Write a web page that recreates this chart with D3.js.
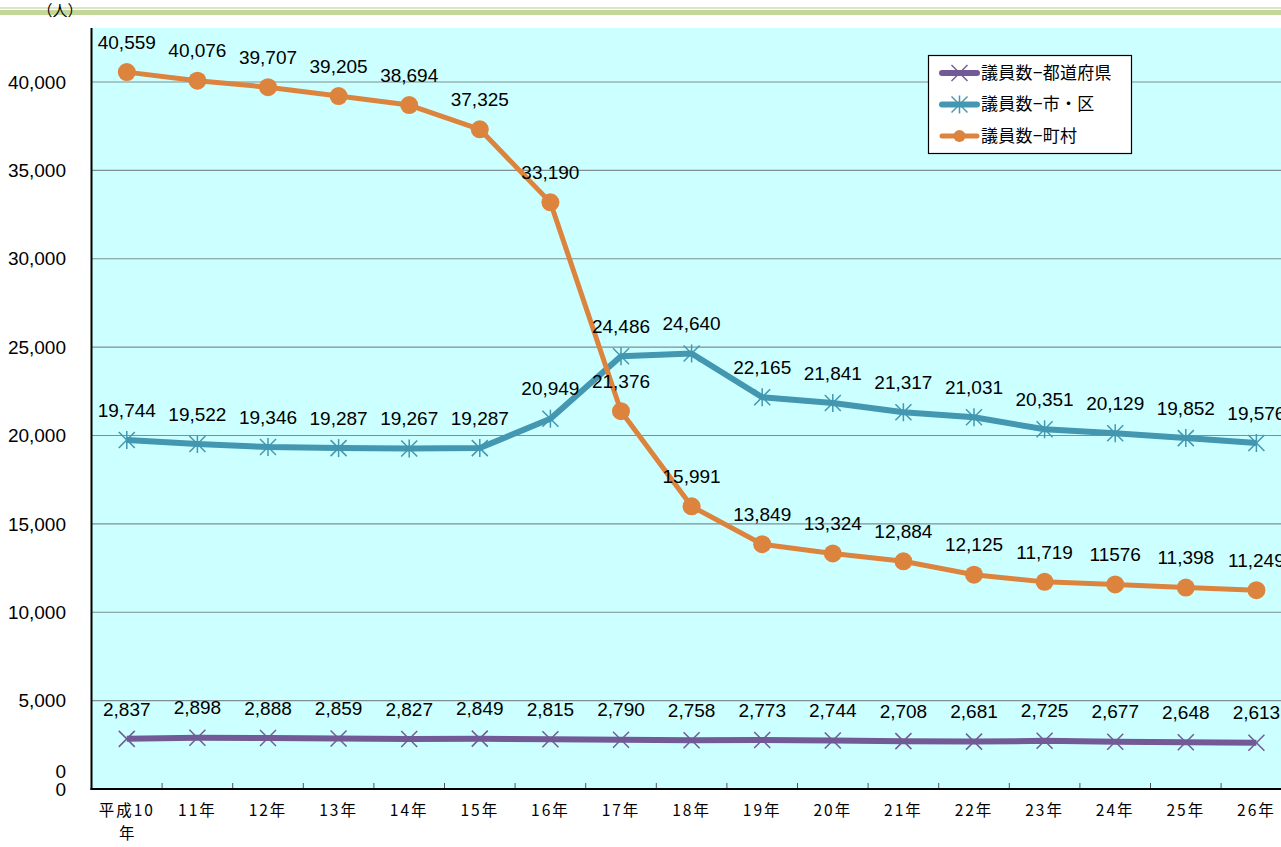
<!DOCTYPE html>
<html><head><meta charset="utf-8">
<script src="https://cdn.jsdelivr.net/npm/d3@7"></script>
<style>
html,body{margin:0;padding:0;background:#fff;}
svg{display:block;}
text{font-family:"Liberation Sans","Noto Sans CJK JP",sans-serif;fill:#000;}
.jp{font-family:"Noto Sans CJK JP",sans-serif;}
</style></head>
<body>
<svg id="chart" width="1281" height="847"></svg>
<script>
const categories = ["平成10年","11年","12年","13年","14年","15年","16年","17年","18年","19年","20年","21年","22年","23年","24年","25年","26年"];
const seriesNames = ["議員数−都道府県","議員数−市・区","議員数−町村"];
const prefValues = [2837,2898,2888,2859,2827,2849,2815,2790,2758,2773,2744,2708,2681,2725,2677,2648,2613];
const cityValues = [19744,19522,19346,19287,19267,19287,20949,24486,24640,22165,21841,21317,21031,20351,20129,19852,19576];
const townValues = [40559,40076,39707,39205,38694,37325,33190,21376,15991,13849,13324,12884,12125,11719,11576,11398,11249];
const prefLabels = ["2,837","2,898","2,888","2,859","2,827","2,849","2,815","2,790","2,758","2,773","2,744","2,708","2,681","2,725","2,677","2,648","2,613"];
const cityLabels = ["19,744","19,522","19,346","19,287","19,267","19,287","20,949","24,486","24,640","22,165","21,841","21,317","21,031","20,351","20,129","19,852","19,576"];
const townLabels = ["40,559","40,076","39,707","39,205","38,694","37,325","33,190","21,376","15,991","13,849","13,324","12,884","12,125","11,719","11576","11,398","11,249"];
const yTicks = [5000,10000,15000,20000,25000,30000,35000,40000];
const yTickLabels = ["5,000","10,000","15,000","20,000","25,000","30,000","35,000","40,000"];
const unitLabel = "（人）";

const svg = d3.select("#chart");
const plotLeft = 91.5, plotTop = 28, plotBottom = 789, bandW = 70.6;
const x = d3.scaleBand().domain(categories).range([plotLeft, plotLeft + bandW * categories.length]).padding(0);
const cx = d => x(d) + x.bandwidth() / 2;
const y = d3.scaleLinear().domain([0, 40000]).range([plotBottom, 82]);

// plot background
svg.append("rect").attr("x", plotLeft).attr("y", plotTop).attr("width", 1281 - plotLeft).attr("height", plotBottom - plotTop).attr("fill", "#ccffff");

// gridlines
svg.append("g").selectAll("line").data(yTicks).join("line")
  .attr("x1", plotLeft).attr("x2", 1281).attr("y1", d => y(d)).attr("y2", d => y(d))
  .attr("stroke", "#7f8f8f").attr("stroke-width", 1.2);

// y tick labels
svg.append("g").selectAll("text").data(yTicks).join("text")
  .attr("x", 66).attr("y", d => y(d)).attr("dy", "0.35em").attr("text-anchor", "end")
  .attr("font-size", 19).text((d, i) => yTickLabels[i]);
svg.append("text").attr("x", 66).attr("y", y(0)).attr("dy", "0.35em").attr("text-anchor", "end").attr("font-size", 19).text("0");
svg.append("text").attr("x", 66).attr("y", y(1000)).attr("dy", "0.35em").attr("text-anchor", "end").attr("font-size", 19).text("0");

// x axis ticks (inside)
const bounds = categories.slice(1).map(c => x(c));
svg.append("g").selectAll("line").data(bounds).join("line")
  .attr("x1", d => d).attr("x2", d => d).attr("y1", plotBottom).attr("y2", plotBottom - 6)
  .attr("stroke", "#555").attr("stroke-width", 1);

// axes lines
svg.append("line").attr("x1", plotLeft).attr("x2", plotLeft).attr("y1", plotTop).attr("y2", plotBottom + 1).attr("stroke", "#000").attr("stroke-width", 2);
svg.append("line").attr("x1", plotLeft - 1).attr("x2", 1281).attr("y1", plotBottom).attr("y2", plotBottom).attr("stroke", "#000").attr("stroke-width", 2);

// x labels
const xl = svg.append("g");
categories.forEach((c, i) => {
  if (i === 0) {
    xl.append("text").attr("class","jp").attr("x", cx(c)).attr("y", 816).attr("text-anchor", "middle").attr("font-size", 15.5).attr("letter-spacing", 2).text("平成10");
    xl.append("text").attr("class","jp").attr("x", cx(c)).attr("y", 839).attr("text-anchor", "middle").attr("font-size", 15.5).text("年");
  } else {
    xl.append("text").attr("class","jp").attr("x", cx(c)).attr("y", 816).attr("text-anchor", "middle").attr("font-size", 15.5).attr("letter-spacing", 2).text(c);
  }
});

const colors = ["#725a96", "#4397b0", "#dc843e"];
const series = [
  {vals: prefValues, labels: prefLabels, color: colors[0], width: 6, marker: "x"},
  {vals: cityValues, labels: cityLabels, color: colors[1], width: 6, marker: "star"},
  {vals: townValues, labels: townLabels, color: colors[2], width: 5, marker: "circle"}
];
const line = d3.line().x((d, i) => cx(categories[i])).y(d => y(d));

function drawMarker(g, type, px, py, color, r) {
  const s = 8;
  if (type === "circle") {
    g.append("circle").attr("cx", px).attr("cy", py).attr("r", r || 9).attr("fill", color);
  } else {
    g.append("line").attr("x1", px - s).attr("y1", py - s).attr("x2", px + s).attr("y2", py + s).attr("stroke", color).attr("stroke-width", 1.5);
    g.append("line").attr("x1", px - s).attr("y1", py + s).attr("x2", px + s).attr("y2", py - s).attr("stroke", color).attr("stroke-width", 1.5);
    if (type === "star") {
      g.append("line").attr("x1", px).attr("y1", py - s - 1).attr("x2", px).attr("y2", py + s + 1).attr("stroke", color).attr("stroke-width", 1.5);
    }
  }
}

series.forEach(s => {
  const g = svg.append("g");
  g.append("path").datum(s.vals).attr("d", line).attr("fill", "none").attr("stroke", s.color).attr("stroke-width", s.width).attr("stroke-linejoin", "round");
  s.vals.forEach((v, i) => drawMarker(g, s.marker, cx(categories[i]), y(v), s.color));
});

// data labels
series.forEach(s => {
  svg.append("g").selectAll("text").data(s.vals).join("text")
    .attr("x", (d, i) => cx(categories[i])).attr("y", d => y(d) - 30).attr("dy", "0.35em")
    .attr("text-anchor", "middle").attr("font-size", 19).text((d, i) => s.labels[i]);
});

// legend
const lg = svg.append("g");
lg.append("rect").attr("x", 928.5).attr("y", 55.5).attr("width", 203).attr("height", 98).attr("fill", "#fff").attr("stroke", "#000").attr("stroke-width", 1.2);
series.forEach((s, i) => {
  const ly = 73 + i * 31.5;
  lg.append("line").attr("x1", 942).attr("x2", 977).attr("y1", ly).attr("y2", ly).attr("stroke", s.color).attr("stroke-width", s.width).attr("stroke-linecap", "round");
  drawMarker(lg, s.marker, 959.5, ly, s.color, 6);
  lg.append("text").attr("class","jp").attr("x", 981).attr("y", ly).attr("dy", "0.35em").attr("font-size", 17).attr("letter-spacing", 0.3).text(seriesNames[i]);
});

// top banner & unit
svg.append("rect").attr("x", 0).attr("y", 7).attr("width", 1281).attr("height", 2).attr("fill", "#dbe7c2");
svg.append("rect").attr("x", 0).attr("y", 10).attr("width", 1281).attr("height", 5).attr("fill", "#c4d79b");
svg.append("text").attr("class","jp").attr("x", 60).attr("y", 11).attr("dy", "0.35em").attr("text-anchor", "middle").attr("font-size", 15).text(unitLabel);
</script>
</body></html>
